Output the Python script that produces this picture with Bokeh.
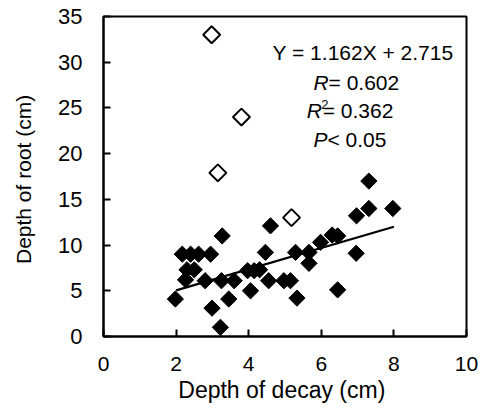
import math
from bokeh.plotting import figure
from bokeh.models import Range1d, FixedTicker, Label
from bokeh.embed import file_html
from bokeh.resources import INLINE

# Data
filled_x = [1.98, 2.17, 2.4, 2.62, 2.95, 2.3, 2.5, 2.26, 2.8, 3.27, 3.25, 3.6,
            2.99, 3.45, 3.22, 4.05, 3.97, 4.15, 4.3, 4.46, 4.6, 4.55, 4.97, 5.15,
            5.33, 5.29, 5.66, 5.66, 5.98, 6.3, 6.45, 6.45, 6.96, 6.97, 7.31, 7.31, 7.97]
filled_y = [4.1, 9.0, 9.0, 9.0, 9.0, 7.3, 7.3, 6.2, 6.1, 11.0, 6.1, 6.1,
            3.1, 4.1, 1.0, 5.0, 7.2, 7.2, 7.3, 9.2, 12.1, 6.1, 6.1, 6.1,
            4.2, 9.2, 9.2, 8.0, 10.3, 11.1, 11.0, 5.1, 9.1, 13.2, 14.0, 17.0, 14.0]
open_x = [2.98, 3.15, 3.8, 5.18]
open_y = [33.0, 17.9, 24.0, 13.0]
slope = 1.162
intercept = 2.715
fit_x = [2.0, 8.0]
fit_y = [slope * v + intercept for v in fit_x]
x_ticks = [0, 2, 4, 6, 8, 10]
y_ticks = [0, 5, 10, 15, 20, 25, 30, 35]

FONT = "Liberation Sans"

p = figure(width=478, height=414, output_backend="svg", toolbar_location=None,
           x_range=Range1d(0, 10), y_range=Range1d(0, 35),
           min_border_left=103, min_border_right=12, min_border_top=16, min_border_bottom=78)
p.grid.visible = False
p.background_fill_color = "white"
p.border_fill_color = "white"
p.outline_line_color = "black"
p.outline_line_width = 2

p.xaxis.ticker = FixedTicker(ticks=x_ticks)
p.yaxis.ticker = FixedTicker(ticks=y_ticks)
for ax in (p.xaxis, p.yaxis):
    ax.axis_line_color = "black"
    ax.axis_line_width = 2
    ax.major_tick_in = 7
    ax.major_tick_out = 0
    ax.major_tick_line_width = 2
    ax.minor_tick_line_color = None
    ax.major_label_text_font = FONT
    ax.major_label_text_color = "black"
    ax.axis_label_text_font = FONT
    ax.axis_label_text_font_style = "normal"
    ax.axis_label_text_color = "black"
p.xaxis.major_label_text_font_size = "21px"
p.yaxis.major_label_text_font_size = "22px"
p.xaxis.axis_label_text_font_size = "23px"
p.yaxis.axis_label_text_font_size = "21px"
p.xaxis.axis_label = "Depth of decay  (cm)"
p.yaxis.axis_label = "Depth of root  (cm)"
p.xaxis.major_label_standoff = 20
p.yaxis.major_label_standoff = 21
p.xaxis.axis_label_standoff = 3
p.yaxis.axis_label_standoff = 20

p.line(fit_x, fit_y, line_color="black", line_width=2.2)
p.scatter(filled_x, filled_y, marker="square", angle=math.pi / 4, size=11.5,
          fill_color="black", line_color="black", line_width=1)
p.scatter(open_x, open_y, marker="square", angle=math.pi / 4, size=12,
          fill_color="white", line_color="black", line_width=2)

def lab(x, y, text, align="left", style="normal", size="21px"):
    p.add_layout(Label(x=x, y=y, text=text, text_font=FONT, text_font_size=size,
                       text_font_style=style, text_align=align,
                       text_baseline="middle", text_color="black"))

lab(7.15, 31.1, "Y = 1.162X + 2.715", align="center")
lab(6.2, 27.8, "R", align="right", style="italic")
lab(6.2, 27.8, "= 0.602")
lab(6.02, 24.7, "R", align="right", style="italic")
lab(6.0, 25.4, "2", size="13px")
lab(6.04, 24.7, "= 0.362")
lab(6.17, 21.6, "P", align="right", style="italic")
lab(6.17, 21.6, "< 0.05")

open("out.html", "w").write(file_html(p, INLINE))
